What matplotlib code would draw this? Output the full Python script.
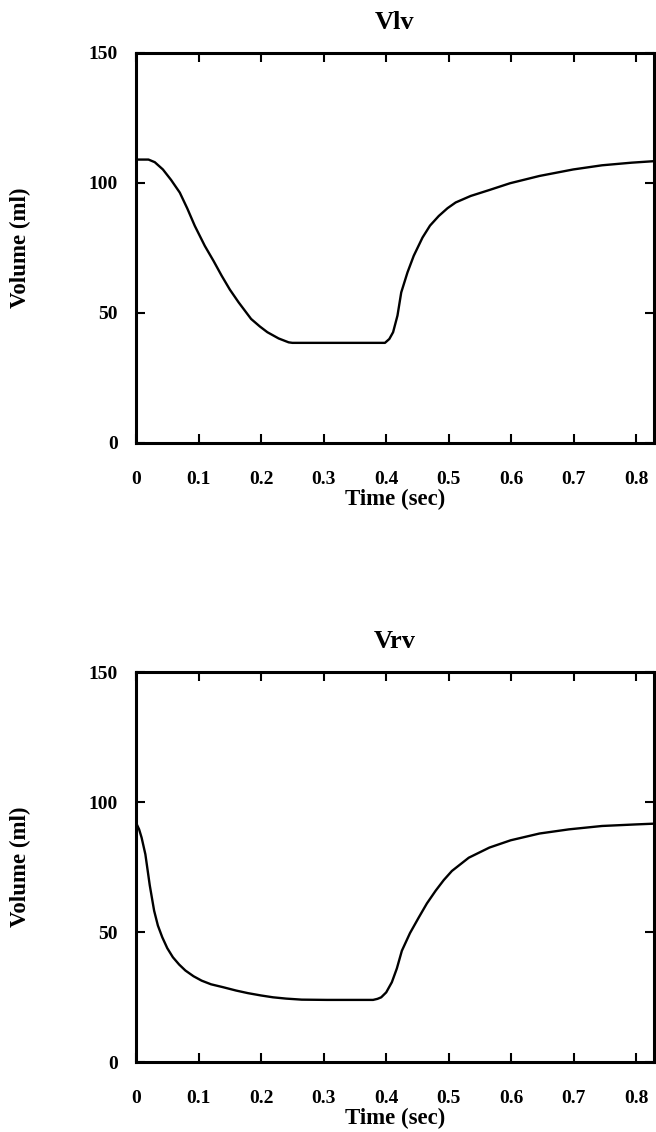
import matplotlib
matplotlib.use("Agg")
import matplotlib.pyplot as plt

# Left ventricular volume over one cardiac cycle
t_lv = [0.000, 0.020, 0.030, 0.043, 0.056, 0.070, 0.082, 0.094, 0.110, 0.124,
        0.137, 0.150, 0.164, 0.184, 0.198, 0.210, 0.228, 0.244, 0.250, 0.300,
        0.350, 0.398, 0.405, 0.411, 0.418, 0.424, 0.434, 0.444, 0.458, 0.470,
        0.484, 0.498, 0.511, 0.535, 0.565, 0.598, 0.645, 0.699, 0.745, 0.792,
        0.829]
v_lv = [109.0, 109.0, 108.0, 105.2, 101.2, 96.3, 90.2, 83.5, 75.8, 70.0,
        64.3, 59.0, 54.1, 47.7, 44.8, 42.6, 40.2, 38.7, 38.5, 38.5,
        38.5, 38.5, 40.0, 42.6, 49.0, 57.9, 65.6, 72.0, 79.0, 83.6,
        87.3, 90.3, 92.5, 95.0, 97.3, 99.9, 102.7, 105.2, 106.8, 107.8,
        108.4]

# Right ventricular volume over one cardiac cycle
t_rv = [0.000, 0.005, 0.009, 0.015, 0.022, 0.029, 0.035, 0.042, 0.050, 0.059,
        0.069, 0.079, 0.092, 0.105, 0.120, 0.139, 0.160, 0.179, 0.200, 0.219,
        0.240, 0.265, 0.305, 0.350, 0.379, 0.386, 0.392, 0.400, 0.409, 0.417,
        0.425, 0.438, 0.452, 0.465, 0.479, 0.492, 0.505, 0.532, 0.565, 0.599,
        0.645, 0.692, 0.745, 0.799, 0.829]
v_rv = [92.1, 89.5, 86.3, 79.9, 68.0, 58.2, 52.5, 48.0, 43.8, 40.3,
        37.5, 35.2, 33.0, 31.3, 29.9, 28.8, 27.5, 26.5, 25.6, 24.9,
        24.4, 24.0, 23.9, 23.9, 23.9, 24.3, 24.9, 26.8, 30.7, 36.0,
        42.8, 49.6, 55.6, 61.0, 65.9, 70.0, 73.5, 78.6, 82.5, 85.3,
        87.9, 89.5, 90.8, 91.4, 91.7]

x_ticks = [0, 0.1, 0.2, 0.3, 0.4, 0.5, 0.6, 0.7, 0.8]
x_ticklabels = ["0", "0.1", "0.2", "0.3", "0.4", "0.5", "0.6", "0.7", "0.8"]
y_ticks = [0, 50, 100, 150]
y_ticklabels = ["0", "50", "100", "150"]

FONT = "Liberation Serif"

fig = plt.figure(figsize=(6.56, 11.32), dpi=100)

panels = [
    ("Vlv", t_lv, v_lv, [0.2073, 0.6087, 0.7896, 0.3445]),
    ("Vrv", t_rv, v_rv, [0.2073, 0.0618, 0.7896, 0.3445]),
]

for title, t, v, rect in panels:
    ax = fig.add_axes(rect)
    ax.plot(t, v, color="black", linewidth=1.7, solid_joinstyle="round")
    ax.set_xlim(0, 0.828)
    ax.set_ylim(0, 150)
    ax.set_xticks(x_ticks)
    ax.set_xticklabels(x_ticklabels)
    ax.set_yticks(y_ticks)
    ax.set_yticklabels(y_ticklabels)
    for s in ax.spines.values():
        s.set_linewidth(2.2)
    ax.tick_params(axis="both", direction="in", length=6.5, width=1.5,
                   top=True, right=True)
    ax.tick_params(axis="x", pad=20)
    ax.tick_params(axis="y", pad=13)
    for lab in ax.get_xticklabels() + ax.get_yticklabels():
        lab.set_fontfamily(FONT)
        lab.set_fontweight("bold")
        lab.set_fontsize(14)
    ax.set_title(title, fontfamily=FONT, fontweight="bold", fontsize=19, pad=17)
    ax.set_xlabel("Time (sec)", fontfamily=FONT, fontweight="bold", fontsize=16.5)
    ax.set_ylabel("Volume (ml)", fontfamily=FONT, fontweight="bold", fontsize=16.5)
    ax.xaxis.set_label_coords(0.5, -0.118)
    ax.xaxis.label.set_va("top")
    ax.yaxis.set_label_coords(-0.202, 0.5)

fig.savefig("out.png", dpi=100)
